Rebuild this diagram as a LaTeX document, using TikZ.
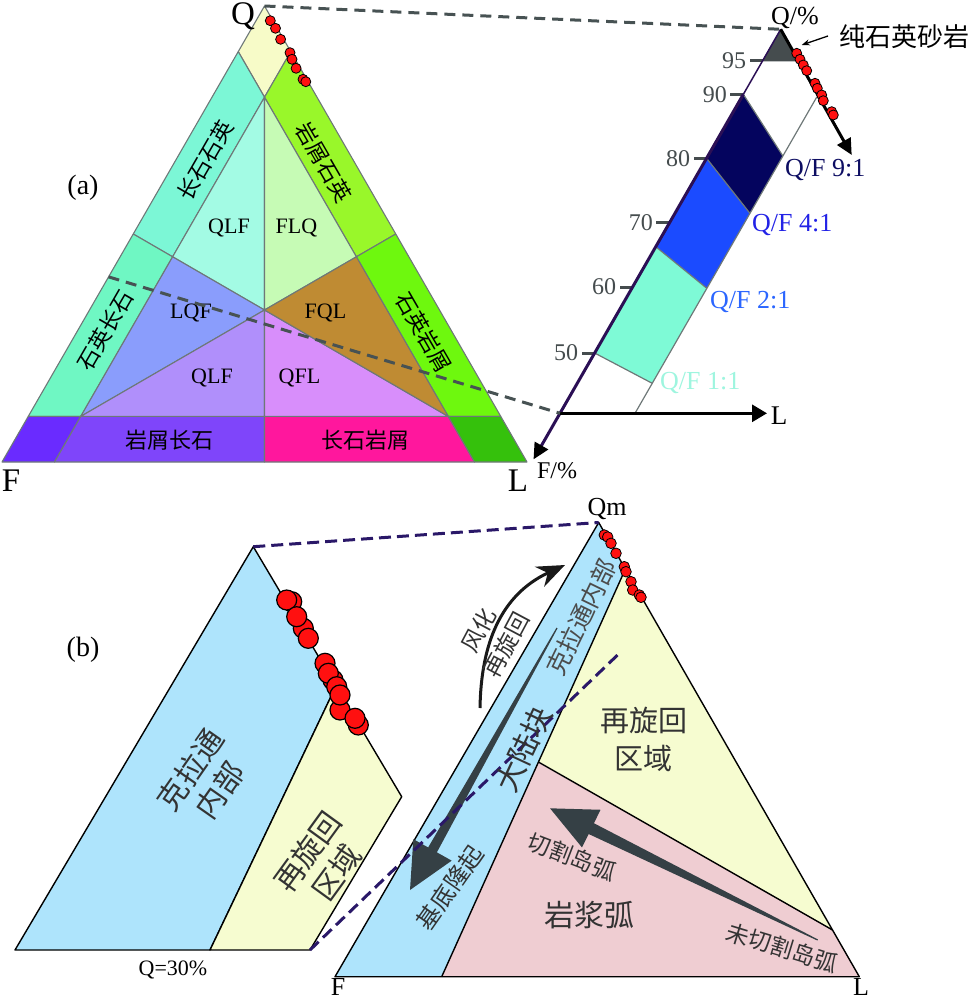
\documentclass[tikz,border=0pt]{standalone}
\usepackage{fontspec}
\setmainfont{Liberation Serif}
\newfontfamily\cjk{Noto Sans CJK SC}
\usetikzlibrary{arrows.meta,calc}
\newcommand{\fsz}[2]{\fontsize{#1}{#2}\selectfont}
\definecolor{egray}{HTML}{6E7878}
\definecolor{cDia}{HTML}{F7FBC8}
\definecolor{cLSQ}{HTML}{7CF7D6}
\definecolor{cQSL}{HTML}{6FF7C3}
\definecolor{cRQ}{HTML}{99F72A}
\definecolor{cQR}{HTML}{6EF80E}
\definecolor{cBL}{HTML}{6A2BFF}
\definecolor{cRF}{HTML}{7F45FA}
\definecolor{cFR}{HTML}{FF179D}
\definecolor{cBR}{HTML}{35C10C}
\definecolor{cIa}{HTML}{A3FBE4}
\definecolor{cIb}{HTML}{C6FBB5}
\definecolor{cIc}{HTML}{8A9DFC}
\definecolor{cId}{HTML}{B08FFB}
\definecolor{cIe}{HTML}{D88EFB}
\definecolor{cIf}{HTML}{BF8B33}
\definecolor{dgray}{HTML}{475253}
\definecolor{axisc}{HTML}{2B0F55}
\definecolor{rnavy}{HTML}{04045E}
\definecolor{rblue}{HTML}{1B4BFF}
\definecolor{raqua}{HTML}{7EFAD6}
\definecolor{rdark}{HTML}{454C4E}
\definecolor{tA}{HTML}{0D0D62}
\definecolor{tB}{HTML}{2222E6}
\definecolor{tC}{HTML}{2B66FF}
\definecolor{tD}{HTML}{9EF5DF}
\definecolor{dotred}{HTML}{FF1010}
\definecolor{bblue}{HTML}{AEE4FC}
\definecolor{byel}{HTML}{F6FCD0}
\definecolor{bpink}{HTML}{EFCDD2}
\definecolor{bdash}{HTML}{2A1868}
\definecolor{arrg}{HTML}{354045}
\definecolor{ctxt}{HTML}{333333}
\tikzset{
  reg/.style={draw=egray,line width=1.1pt},
  rdot/.style={fill=dotred,draw=black,line width=0.8pt},
  bdot/.style={fill=dotred,draw=black,line width=1.2pt},
  gline/.style={draw=egray,line width=1.2pt},
  tickm/.style={draw=rdark,line width=3pt},
  bout/.style={draw=black,line width=1.4pt},
  adash/.style={draw=dgray,line width=3pt,dash pattern=on 11pt off 7pt},
  bdashed/.style={draw=bdash,line width=3pt,dash pattern=on 12pt off 6pt},
  txt/.style={inner sep=0pt},
  ctx/.style={inner sep=0pt,text=ctxt},
}
\begin{document}
\begin{tikzpicture}[x=1pt,y=-1pt,line join=round]
\useasboundingbox (0,0) rectangle (971,1000);

% ===================== (a) ternary =====================
\coordinate (Q) at (264.5,6);
\coordinate (F) at (2,462);
\coordinate (L) at (527,462);
\coordinate (q1) at (barycentric cs:Q=0.9,F=0.1,L=0);
\coordinate (r1) at (barycentric cs:Q=0.9,F=0,L=0.1);
\coordinate (c0) at (barycentric cs:Q=0.8,F=0.1,L=0.1);
\coordinate (a) at (barycentric cs:Q=0.5,F=0.5,L=0);
\coordinate (a2) at (barycentric cs:Q=0.45,F=0.45,L=0.1);
\coordinate (b) at (barycentric cs:Q=0.5,F=0,L=0.5);
\coordinate (b2) at (barycentric cs:Q=0.45,F=0.1,L=0.45);
\coordinate (f1) at (barycentric cs:Q=0.1,F=0.9,L=0);
\coordinate (cF) at (barycentric cs:Q=0.1,F=0.8,L=0.1);
\coordinate (l1) at (barycentric cs:Q=0.1,F=0,L=0.9);
\coordinate (cL) at (barycentric cs:Q=0.1,F=0.1,L=0.8);
\coordinate (bF) at (barycentric cs:Q=0,F=0.9,L=0.1);
\coordinate (bL) at (barycentric cs:Q=0,F=0.1,L=0.9);
\coordinate (bM) at (barycentric cs:Q=0,F=0.5,L=0.5);
\coordinate (iM) at (barycentric cs:Q=0.1,F=0.45,L=0.45);
\coordinate (G) at (barycentric cs:Q=1,F=1,L=1);
\coordinate (q40) at (barycentric cs:Q=0.406,F=0.594,L=0);

\filldraw[reg,fill=cDia] (Q)--(q1)--(c0)--(r1)--cycle;
\filldraw[reg,fill=cLSQ] (q1)--(a)--(a2)--(c0)--cycle;
\filldraw[reg,fill=cQSL] (a)--(f1)--(cF)--(a2)--cycle;
\filldraw[reg,fill=cRQ] (r1)--(c0)--(b2)--(b)--cycle;
\filldraw[reg,fill=cQR] (b)--(b2)--(cL)--(l1)--cycle;
\filldraw[reg,fill=cBL] (f1)--(F)--(bF)--(cF)--cycle;
\filldraw[reg,fill=cRF] (cF)--(bF)--(bM)--(iM)--cycle;
\filldraw[reg,fill=cFR] (iM)--(bM)--(bL)--(cL)--cycle;
\filldraw[reg,fill=cBR] (cL)--(bL)--(L)--(l1)--cycle;
\filldraw[reg,fill=cIa] (c0)--(a2)--(G)--cycle;
\filldraw[reg,fill=cIb] (c0)--(G)--(b2)--cycle;
\filldraw[reg,fill=cIc] (a2)--(cF)--(G)--cycle;
\filldraw[reg,fill=cId] (cF)--(iM)--(G)--cycle;
\filldraw[reg,fill=cIe] (G)--(iM)--(cL)--cycle;
\filldraw[reg,fill=cIf] (G)--(cL)--(b2)--cycle;

\node[txt,font=\fsz{22}{26}] (n1) at (229,228) {QLF};
\node[txt,font=\fsz{22}{26}] (n2) at (296.5,228) {FLQ};
\node[txt,font=\fsz{22}{26}] (n3) at (191,313) {LQF};
\node[txt,font=\fsz{22}{26}] (n4) at (325.5,313) {FQL};
\node[txt,font=\fsz{22}{26}] (n5) at (212,378) {QLF};
\node[txt,font=\fsz{22}{26}] (n6) at (299.5,378) {QFL};
\node[txt,font=\cjk\fsz{22}{26},rotate=60] (m1) at (205,160) {长石石英};
\node[txt,font=\cjk\fsz{22}{26},rotate=-60] (m2) at (324,162) {岩屑石英};
\node[txt,font=\cjk\fsz{22}{26},rotate=60] (m3) at (105,330) {石英长石};
\node[txt,font=\cjk\fsz{22}{26},rotate=-60] (m4) at (424,332) {石英岩屑};
\node[txt,font=\cjk\fsz{22}{26}] (m5) at (169,440) {岩屑长石};
\node[txt,font=\cjk\fsz{22}{26}] (m6) at (365,440) {长石岩屑};
\node[txt,font=\fsz{33}{36}] (lQ) at (243,16) {Q};
\node[txt,font=\fsz{33}{36}] (lF) at (11,481) {F};
\node[txt,font=\fsz{33}{36}] (lL) at (518,481) {L};
\node[txt,font=\fsz{28}{32}] (la) at (83,188) {(a)};

% ===================== (a) right: zoomed Q-F edge =====================
\coordinate (A0) at (560,413.3);
\coordinate (A1) at (780.7,29.3);
\coordinate (R0) at (635,413.3);
\coordinate (R1) at (855.7,29.3);
\coordinate (Bk) at (851.7,155);
\coordinate (t95) at ($(A0)!0.9175!(A1)$);
\coordinate (t90) at ($(A0)!0.8307!(A1)$);
\coordinate (t80) at ($(A0)!0.6641!(A1)$);
\coordinate (t70) at ($(A0)!0.4956!(A1)$);
\coordinate (t67) at ($(A0)!0.4339!(A1)$);
\coordinate (t60) at ($(A0)!0.3289!(A1)$);
\coordinate (t50) at ($(A0)!0.157!(A1)$);
\coordinate (tF) at ($(A0)!-0.12!(A1)$);
\coordinate (s9) at ($(R0)!0.670!(R1)$);
\coordinate (s4) at ($(R0)!0.5208!(R1)$);
\coordinate (s2) at ($(R0)!0.3255!(R1)$);
\coordinate (s1) at ($(R0)!0.0781!(R1)$);
\coordinate (sT) at ($(R0)!0.8237!(R1)$);
\coordinate (d95) at (796,61);
\coordinate (Le) at (767,413.3);

\fill[rnavy] (t90)--(s9)--(s4)--(t80)--cycle;
\fill[rblue] (t80)--(s4)--(s2)--(t67)--cycle;
\fill[raqua] (t67)--(s2)--(s1)--(t50)--cycle;
\filldraw[fill=rdark,draw=rdark,line width=0.8pt] (A1)--(t95)--(d95)--cycle;
\draw[gline] (t90)--(s9);
\draw[gline] (t80)--(s4);
\draw[gline] (t67)--(s2);
\draw[gline] (t50)--(s1);
\draw[gline] (R0)--(sT);

\draw[tickm] (t95) -- ++(-13,0) node[txt,anchor=east,xshift=-2pt,font=\fsz{24}{28},text=rdark] (k95) {95};
\draw[tickm] (t90) -- ++(-13,0) node[txt,anchor=east,xshift=-2pt,font=\fsz{24}{28},text=rdark] (k90) {90};
\draw[tickm] (t80) -- ++(-13,0) node[txt,anchor=east,xshift=-2pt,font=\fsz{24}{28},text=rdark] (k80) {80};
\draw[tickm] (t70) -- ++(-13,0) node[txt,anchor=east,xshift=-2pt,font=\fsz{24}{28},text=rdark] (k70) {70};
\draw[tickm] (t60) -- ++(-13,0) node[txt,anchor=east,xshift=-2pt,font=\fsz{24}{28},text=rdark] (k60) {60};
\draw[tickm] (t50) -- ++(-13,0) node[txt,anchor=east,xshift=-2pt,font=\fsz{24}{28},text=rdark] (k50) {50};

\draw[axisc,line width=1.5pt] (A1)--(t90);
\draw[axisc,line width=3pt,-{Triangle[length=16pt,width=15pt,color=black]}] (t90)--(tF);
\draw[black,line width=3pt,-{Triangle[length=15pt,width=17pt]}] (A0)--(Le);
\draw[black,line width=3pt,-{Triangle[length=16pt,width=15pt]}] (A1)--(Bk);

\foreach \x/\y in {796.7/53.3,800/59.3,803.3/65,806.7/70.7,815/83.3,817.3/88.3,821.7/95,823.3/100.7,831.7/111.7,833.3/115}
  \filldraw[rdot] (\x,\y) circle (5pt);

\node[txt,font=\fsz{26}{30}] (lQp) at (795,18) {Q/\%};
\node[txt,font=\cjk\fsz{26}{30}] (lpure) at (904,37) {纯石英砂岩};
\coordinate (pa) at (801.7,45);
\coordinate (pb) at (828,36);
\draw[black,line width=1.3pt,-{Stealth[length=8pt,width=6pt]}] (pb) -- (pa);
\node[txt,font=\fsz{26}{30},text=tA,anchor=west] (q91) at (785,170) {Q/F 9:1};
\node[txt,font=\fsz{26}{30},text=tB,anchor=west] (q41) at (752,225) {Q/F 4:1};
\node[txt,font=\fsz{26}{30},text=tC,anchor=west] (q21) at (710,302) {Q/F 2:1};
\node[txt,font=\fsz{26}{30},text=tD,anchor=west] (q11) at (660,383) {Q/F 1:1};
\node[txt,font=\fsz{24}{28}] (lFp) at (557,471) {F/\%};
\node[txt,font=\fsz{27}{30}] (lLr) at (779,416) {L};

% dashed connectors (a)
\draw[adash] (Q) -- (A1);
\draw[adash] (q40) -- (A0);

\foreach \x/\y in {270.3/20.7,275.5/28.3,280.6/39.3,290/52.7,292/59.3,296.1/68.3,303/79.3,305.8/81.7}
  \filldraw[rdot] (\x,\y) circle (5pt);

% ===================== (b) left =====================
\coordinate (P1) at (253.3,546.7);
\coordinate (P2) at (15,950);
\coordinate (P3) at (210,950);
\coordinate (P4) at (336,686);
\coordinate (P5) at (401.7,796.7);
\coordinate (P6) at (310,950);
\filldraw[bout,fill=bblue] (P1)--(P2)--(P3)--(P4)--cycle;
\filldraw[bout,fill=byel] (P4)--(P5)--(P6)--(P3)--cycle;
\node[ctx,font=\cjk\fsz{30}{36},rotate=55,align=center] (kl) at (205,780) {克拉通\\内部};
\node[ctx,font=\cjk\fsz{30}{36},rotate=54,align=center] (zx) at (322,862) {再旋回\\区域};
\node[txt,font=\fsz{28}{32}] (lb) at (83,650) {(b)};
\node[txt,font=\fsz{22}{26}] (lq30) at (173,970) {Q=30\%};

% ===================== (b) right =====================
\coordinate (Qm) at (598.7,522.5);
\coordinate (BF) at (335,976.7);
\coordinate (BL) at (859.3,976.7);
\coordinate (BY) at (625.4,569);
\coordinate (BP) at (441.7,976.7);
\coordinate (BM) at (538.4,762);
\coordinate (PY) at (832.5,930);
\fill[bblue] (Qm)--(BF)--(BP)--(BY)--cycle;
\fill[byel] (BY)--(BM)--(PY)--cycle;
\fill[bpink] (BP)--(BL)--(PY)--(BM)--cycle;
\draw[bout] (Qm)--(BF)--(BL)--cycle;
\draw[bout] (BP)--(BY);
\draw[bout] (BM)--(PY);

% tapered arrows
\coordinate (uT) at (557,628);
\coordinate (uP) at (410,890);
\coordinate (uB) at ($(uP)!46pt!(uT)$);
\fill[arrg] ($(uT)!0.6pt!90:(uP)$) -- ($(uB)!5pt!90:(uP)$) -- ($(uB)!22pt!90:(uP)$) -- (uP)
  -- ($(uB)!22pt!-90:(uP)$) -- ($(uB)!5pt!-90:(uP)$) -- ($(uT)!0.6pt!-90:(uP)$) -- cycle;
\coordinate (vT) at (817.7,940);
\coordinate (vP) at (550,808.3);
\coordinate (vB) at ($(vP)!46pt!(vT)$);
\fill[arrg] ($(vT)!0.6pt!90:(vP)$) -- ($(vB)!6pt!90:(vP)$) -- ($(vB)!21pt!90:(vP)$) -- (vP)
  -- ($(vB)!21pt!-90:(vP)$) -- ($(vB)!6pt!-90:(vP)$) -- ($(vT)!0.6pt!-90:(vP)$) -- cycle;

% curved arrow
\coordinate (cs) at (480,708);
\coordinate (ce) at (565,565);
\draw[black!90,line width=3pt,-{Stealth[length=28pt,width=22pt]}] (cs) .. controls (481,645) and (500,595) .. (ce);

% dashed connectors (b)
\coordinate (De) at (621,651.7);
\draw[bdashed] (P1) -- (Qm);
\draw[bdashed] (P6) -- (De);

\node[ctx,font=\cjk\fsz{29}{38},align=center] (zx2) at (643.5,739) {再旋回\\区域};
\node[ctx,font=\cjk\fsz{30}{34}] (yj) at (589,915) {岩浆弧};
\node[ctx,font=\cjk\fsz{23}{27},rotate=-21] (qg) at (571.7,856.7) {切割岛弧};
\node[ctx,font=\cjk\fsz{23}{27},rotate=-17] (wqg) at (781.8,947.5) {未切割岛弧};
\node[ctx,font=\cjk\fsz{25}{29},rotate=64,text=black!70] (kl2) at (581,617.5) {克拉通内部};
\node[ctx,font=\cjk\fsz{30}{34},rotate=65] (dl) at (523.5,749) {大陆块};
\node[ctx,font=\cjk\fsz{24}{28},rotate=55] (jd) at (450,887.5) {基底隆起};
\node[ctx,font=\cjk\fsz{23}{31},rotate=62,align=center] (fh) at (492.5,637.5) {风化\\再旋回};
\node[txt,font=\fsz{26}{30}] (lQm) at (607,509) {Qm};
\node[txt,font=\fsz{26}{30}] (lBF) at (338,987) {F};
\node[txt,font=\fsz{26}{30}] (lBL) at (861,987) {L};

\foreach \x/\y in {604.3/535,607.7/537,611/543.3,616/553.3,624.3/566.7,626/571.7,631/581.7,632.7/590,639.3/595,641/597.3}
  \filldraw[rdot] (\x,\y) circle (5.3pt);

\foreach \x/\y in {291.7/601.7,286.7/600,303.3/628.3,296.7/616.7,308.3/638.3,325/663.3,333/680,328.3/673.3,340/710,336.7/686.7,340/695,358.3/725,355/718.3}
  \filldraw[bdot] (\x,\y) circle (10pt);
\end{tikzpicture}
\end{document}
